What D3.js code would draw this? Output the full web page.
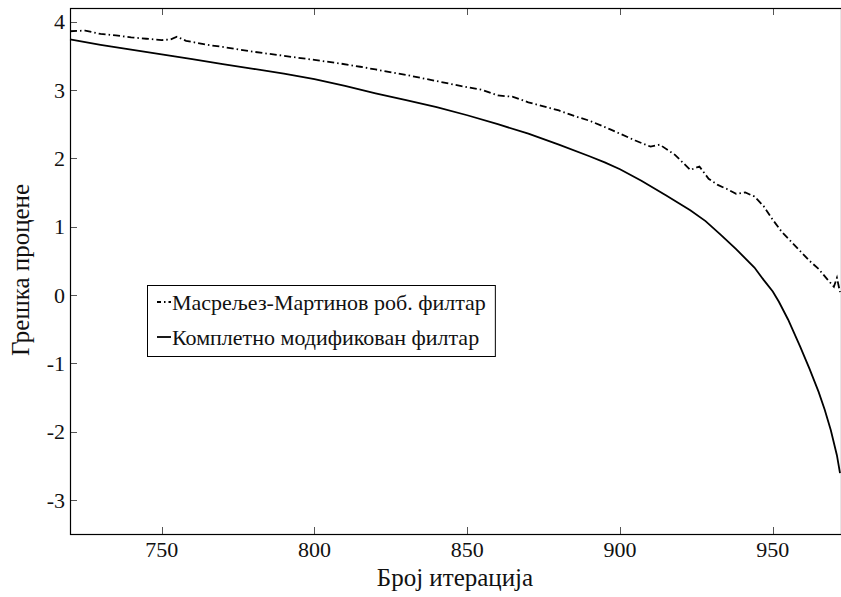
<!DOCTYPE html>
<html>
<head>
<meta charset="utf-8">
<script src="https://cdn.jsdelivr.net/npm/d3@7"></script>
<style>
  body { margin: 0; background: #fff; }
</style>
</head>
<body>
<div id="chart"></div>
<script>
'use strict';

// ── Data ────────────────────────────────────────────────────
const mmIter = [720, 725, 730, 735, 740, 745, 750, 753, 755, 758, 765, 770, 780, 790, 800,
    808, 815, 820, 830, 840, 850, 855, 860, 865, 870, 875, 880, 885, 890, 897,
    900, 905, 910, 913, 918, 923, 926, 929, 932, 935, 938, 941, 944, 947, 950,
    953, 956, 959, 962, 965, 968, 970, 971, 972];
const mmError = [3.86, 3.87, 3.82, 3.80, 3.77, 3.75, 3.73, 3.74, 3.78, 3.72, 3.66, 3.63, 3.56, 3.50, 3.44,
    3.39, 3.34, 3.30, 3.22, 3.13, 3.04, 3.00, 2.92, 2.90, 2.82, 2.76, 2.70, 2.62, 2.55, 2.42,
    2.36, 2.26, 2.17, 2.20, 2.05, 1.83, 1.88, 1.70, 1.61, 1.55, 1.48, 1.50, 1.44, 1.30, 1.10,
    0.92, 0.78, 0.64, 0.50, 0.38, 0.22, 0.12, 0.25, 0.04];

const modIter = [720, 730, 740, 750, 760, 770, 780, 790, 800, 810, 820, 830, 840, 850,
    860, 870, 880, 890, 895, 900, 907, 915, 923, 928, 933, 938, 944, 947, 950,
    952, 955, 959, 962, 965, 967, 969, 971, 972];
const modError = [3.74, 3.66, 3.59, 3.52, 3.45, 3.38, 3.31, 3.24, 3.16, 3.06, 2.95, 2.85, 2.75, 2.63,
    2.50, 2.36, 2.20, 2.03, 1.94, 1.84, 1.67, 1.46, 1.24, 1.08, 0.88, 0.67, 0.40, 0.22, 0.05,
    -0.10, -0.36, -0.76, -1.08, -1.42, -1.68, -1.98, -2.35, -2.61];

const xTicks = [750, 800, 850, 900, 950];
const yTicks = [-3, -2, -1, 0, 1, 2, 3, 4];

const legendLabels = ['Масрељез-Мартинов роб. филтар', 'Комплетно модификован филтар'];
const xLabel = 'Број итерација';
const yLabel = 'Грешка процене';

// ── Layout ───────────────────────────────────────────────────
const W = 841, H = 597;
const plot = { left: 70, right: 841, top: 8, bottom: 534 };
const FONT = 'Liberation Serif';

const svg = d3.select('#chart').append('svg')
    .attr('width', W)
    .attr('height', H);

const x = d3.scaleLinear().domain([720, 972]).range([plot.left, 840]);
const y = d3.scaleLinear().domain([-3.5, 4.2]).range([plot.bottom, plot.top]);

// ── Ticks (inward, top and bottom like the original) ────────
const tickLen = 7;
const ticks = svg.append('g').attr('stroke', '#555').attr('stroke-width', 1);

xTicks.forEach(t => {
    const px = Math.round(x(t)) + 0.5;
    ticks.append('line').attr('x1', px).attr('x2', px)
        .attr('y1', plot.bottom).attr('y2', plot.bottom - tickLen);
    ticks.append('line').attr('x1', px).attr('x2', px)
        .attr('y1', plot.top).attr('y2', plot.top + tickLen);
});
yTicks.forEach(t => {
    const py = Math.round(y(t)) + 0.5;
    ticks.append('line').attr('x1', plot.left).attr('x2', plot.left + tickLen)
        .attr('y1', py).attr('y2', py);
});

// ── Frame ────────────────────────────────────────────────────
svg.append('rect')
    .attr('x', plot.left + 0.5)
    .attr('y', plot.top + 0.5)
    .attr('width', plot.right - plot.left)
    .attr('height', plot.bottom - plot.top)
    .attr('fill', 'none')
    .attr('stroke', '#000')
    .attr('stroke-width', 1.2);

// ── Tick labels ──────────────────────────────────────────────
svg.append('g').selectAll('text')
    .data(xTicks)
    .join('text')
    .attr('x', d => x(d))
    .attr('y', 557)
    .attr('text-anchor', 'middle')
    .attr('font-family', FONT)
    .attr('font-size', 22)
    .attr('fill', '#111')
    .text(d => d);

svg.append('g').selectAll('text')
    .data(yTicks)
    .join('text')
    .attr('x', 65)
    .attr('y', d => y(d))
    .attr('dy', '0.35em')
    .attr('text-anchor', 'end')
    .attr('font-family', FONT)
    .attr('font-size', 22)
    .attr('fill', '#111')
    .text(d => String(d));

// ── Axis titles ──────────────────────────────────────────────
svg.append('text')
    .attr('x', 455)
    .attr('y', 586)
    .attr('text-anchor', 'middle')
    .attr('font-family', FONT)
    .attr('font-size', 25)
    .attr('fill', '#111')
    .text(xLabel);

svg.append('text')
    .attr('transform', 'translate(29,270) rotate(-90)')
    .attr('text-anchor', 'middle')
    .attr('font-family', FONT)
    .attr('font-size', 25)
    .attr('fill', '#111')
    .text(yLabel);

// ── Lines ────────────────────────────────────────────────────
const line = d3.line()
    .x(d => x(d[0]))
    .y(d => y(d[1]));

const plotArea = svg.append('g');

plotArea.append('path')
    .datum(d3.zip(mmIter, mmError))
    .attr('d', line)
    .attr('fill', 'none')
    .attr('stroke', '#000')
    .attr('stroke-width', 1.8)
    .attr('stroke-dasharray', '7,3,1.5,3');

plotArea.append('path')
    .datum(d3.zip(modIter, modError))
    .attr('d', line)
    .attr('fill', 'none')
    .attr('stroke', '#000')
    .attr('stroke-width', 1.8);

// ── Legend ───────────────────────────────────────────────────
const legend = svg.append('g').attr('transform', 'translate(147,285)');
const legendBox = legend.append('rect')
    .attr('fill', '#fff')
    .attr('stroke', '#000')
    .attr('stroke-width', 1);

const rows = legend.selectAll('g.row')
    .data(legendLabels)
    .join('g')
    .attr('class', 'row')
    .attr('transform', (d, i) => `translate(0,${17 + i * 35})`);

rows.append('line')
    .attr('x1', 10).attr('x2', 24)
    .attr('y1', 0).attr('y2', 0)
    .attr('stroke', '#000')
    .attr('stroke-width', 1.8)
    .attr('stroke-dasharray', (d, i) => i === 0 ? '4,3,1.5,3' : null);

const legendTexts = rows.append('text')
    .attr('x', 25)
    .attr('dy', '0.35em')
    .attr('font-family', FONT)
    .attr('font-size', 22)
    .attr('fill', '#111')
    .text(d => d);

let maxW = 0;
legendTexts.each(function() { maxW = Math.max(maxW, this.getComputedTextLength()); });
legendBox
    .attr('x', 0.5).attr('y', 0.5)
    .attr('width', 25 + maxW + 9)
    .attr('height', 71);
</script>
</body>
</html>
